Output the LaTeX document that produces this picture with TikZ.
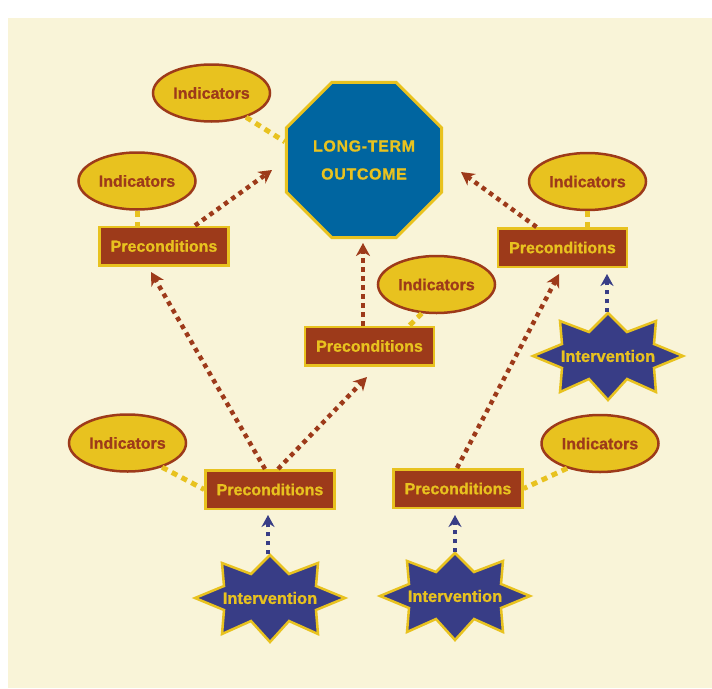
\documentclass[tikz,border=0pt]{standalone}
\usepackage{fontspec}
\setmainfont{Liberation Sans}[BoldFeatures={FakeBold=0.9}]
\usetikzlibrary{arrows.meta,shapes.geometric}
\definecolor{cream}{HTML}{F9F4D8}
\definecolor{gold}{HTML}{E8C21F}
\definecolor{rust}{HTML}{9D3A1A}
\definecolor{ocean}{HTML}{0065A0}
\definecolor{navy}{HTML}{383D86}
\begin{document}
\begin{tikzpicture}[x=1pt,y=-1pt,
  lbl/.style={font=\bfseries\fontsize{16}{19}\selectfont},
  ind/.style={lbl, ellipse, draw=rust, fill=gold, line width=2.5pt, minimum width=117pt, minimum height=57pt, inner sep=0pt, text=rust},
  pre/.style={lbl, rectangle, draw=gold, fill=rust, line width=2.5pt, minimum width=129pt, minimum height=38.5pt, inner sep=0pt, text=gold},
  intv/.style={font=\bfseries\fontsize{16.5}{19}\selectfont, rectangle, minimum width=150pt, minimum height=87pt, inner sep=0pt, text=gold},
  starsty/.style={draw=gold, fill=navy, line width=2.5pt, line join=miter},
  brownarrow/.style={draw=rust, line width=4.5pt, dash pattern=on 4.5pt off 4.5pt, -{Stealth[length=13pt,width=14pt,inset=4pt,fill=rust]}},
  bluearrow/.style={draw=navy, line width=4pt, dash pattern=on 4pt off 5pt, -{Stealth[length=12pt,width=13pt,inset=4pt,fill=navy]}},
  ydash/.style={draw=gold, line width=5pt, dash pattern=on 6pt off 5pt},
  pics/burst/.style={code={\draw[starsty] (0,-43) -- (19,-24) -- (48,-35) -- (46,-12) -- (75,0) -- (46,12) -- (48,36) -- (19,23) -- (0,44) -- (-19,23) -- (-48,36) -- (-46,12) -- (-75,0) -- (-46,-12) -- (-48,-35) -- (-19,-24) -- cycle;}}
]
\useasboundingbox (0,0) rectangle (712,688);
\fill[white] (0,0) rectangle (712,688);
\fill[cream] (8,18) rectangle (712,688);

% long-term outcome
\node[regular polygon, regular polygon sides=8, minimum size=168pt, draw=gold, fill=ocean, line width=3pt, inner sep=0pt,
      text=gold, align=center, font=\bfseries\fontsize{16}{28}\selectfont\addfontfeatures{LetterSpace=4}] (oct) at (364,160) {LONG-TERM\\OUTCOME};

% indicators
\node[ind] (indT)  at (211.5,93)   {Indicators};
\node[ind] (indL)  at (137,181)    {Indicators};
\node[ind] (indR)  at (587.5,181.5){Indicators};
\node[ind] (indM)  at (436.5,284.5){Indicators};
\node[ind] (indLL) at (127.5,443)  {Indicators};
\node[ind] (indLR) at (600,443.5)  {Indicators};

% preconditions
\node[pre] (preL)  at (164,246)    {Preconditions};
\node[pre] (preR)  at (562.5,247.5){Preconditions};
\node[pre] (preM)  at (369.5,346)  {Preconditions};
\node[pre] (preLL) at (270,489.5)  {Preconditions};
\node[pre] (preLR) at (458,488.5)  {Preconditions};

% interventions
\pic at (608,356) {burst};
\pic at (270,598) {burst};
\pic at (455,596) {burst};
\node[intv] (intR)  at (608,356) {Intervention};
\node[intv] (intLL) at (270,598) {Intervention};
\node[intv] (intLR) at (455,596) {Intervention};

% arrow tips
\coordinate (tipOL) at (272,170);
\coordinate (tipOR) at (461,172);
\coordinate (tipOB) at (363,243);
\coordinate (tipPL) at (151,272);
\coordinate (tipPM) at (367,377);
\coordinate (tipPR) at (559,274);

% brown dotted arrows
\draw[brownarrow] ([xshift=31pt]preL.north) -- (tipOL);
\draw[brownarrow] ([xshift=-26pt]preR.north) -- (tipOR);
\draw[brownarrow] ([xshift=-6.5pt]preM.north) -- (tipOB);
\draw[brownarrow] ([xshift=-5pt]preLL.north) -- (tipPL);
\draw[brownarrow] ([xshift=8pt]preLL.north) -- (tipPM);
\draw[brownarrow] ([xshift=-1pt]preLR.north) -- (tipPR);

% yellow dashed links
\draw[ydash] (indT.-35) -- (oct.167);
\draw[ydash] (indL.south) -- (indL.south |- preL.north);
\draw[ydash] (indR.south) -- (indR.south |- preR.north);
\draw[ydash] (indM.-117) -- ([xshift=40pt]preM.north);
\draw[ydash] (indLL.-35) -- (preLL.west);
\draw[ydash] (indLR.-143) -- (preLR.east);

% blue dotted arrows
\draw[bluearrow, shorten >=5pt] ([xshift=-2pt]intLL.north) -- ([xshift=-2pt]intLL.north |- preLL.south);
\draw[bluearrow, shorten >=6pt] (intLR.north) -- (intLR.north |- preLR.south);
\draw[bluearrow, shorten >=6pt] ([xshift=-1pt]intR.north) -- ([xshift=-1pt]intR.north |- preR.south);
\end{tikzpicture}
\end{document}
